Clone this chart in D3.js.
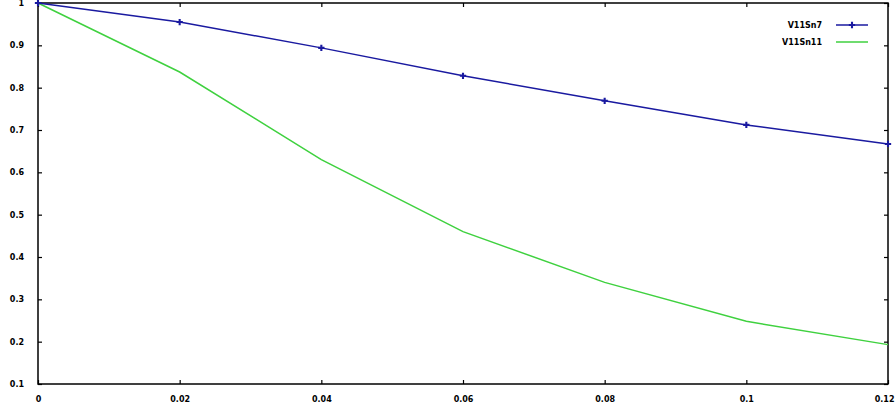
<!DOCTYPE html>
<html>
<head>
<meta charset="utf-8">
<script src="https://cdn.jsdelivr.net/npm/d3@7"></script>
<style>
  body { margin: 0; background: #fff; }
  text { font-family: "DejaVu Sans", sans-serif; font-weight: bold; font-size: 8px; fill: #000; }
</style>
</head>
<body>
<div id="chart-area"></div>
<script>
// data
var xValues = [0, 0.02, 0.04, 0.06, 0.08, 0.1, 0.12];
var seriesNames = ["V11Sn7", "V11Sn11"];
var blueValues = [1, 0.955, 0.894, 0.828, 0.769, 0.712, 0.667];
var greenValues = [1, 0.837, 0.630, 0.460, 0.340, 0.248, 0.193];
var xTicks = [0, 0.02, 0.04, 0.06, 0.08, 0.1, 0.12];
var yTicks = [0.1, 0.2, 0.3, 0.4, 0.5, 0.6, 0.7, 0.8, 0.9, 1];

var width = 895, height = 411;
var margin = {top: 3, right: 7, bottom: 27, left: 38};
var w = width - margin.left - margin.right;
var h = height - margin.top - margin.bottom;

var svg = d3.select("#chart-area").append("svg").attr("width", width).attr("height", height);
var g = svg.append("g").attr("transform", "translate(" + margin.left + "," + margin.top + ")");

var x = d3.scaleLinear().domain([0, 0.12]).range([0, w]);
var y = d3.scaleLinear().domain([0.1, 1]).range([h, 0]);

// frame
g.append("rect").attr("width", w).attr("height", h)
    .attr("fill", "none").attr("stroke", "#000").attr("stroke-width", 1.5);

// axes with inward ticks
var fmt = function(d) { return d3.format("~g")(d); };
var bottom = g.append("g").attr("transform", "translate(0," + h + ")")
    .call(d3.axisBottom(x).tickValues(xTicks).tickSize(-4).tickPadding(12).tickFormat(fmt))
    .call(function(a) { a.select(".domain").remove(); });
// last label sits at the edge, keep it inside the window
bottom.selectAll(".tick text").filter(function(d) { return d === 0.12; })
    .attr("text-anchor", "end").attr("dx", "6");
g.append("g")
    .call(d3.axisLeft(y).tickValues(yTicks).tickSize(-4).tickPadding(14).tickFormat(fmt))
    .call(function(a) { a.select(".domain").remove(); });
g.append("g")
    .call(d3.axisTop(x).tickValues(xTicks).tickSize(-4).tickFormat(""))
    .call(function(a) { a.select(".domain").remove(); });
g.append("g").attr("transform", "translate(" + w + ",0)")
    .call(d3.axisRight(y).tickValues(yTicks).tickSize(-4).tickFormat(""))
    .call(function(a) { a.select(".domain").remove(); });
g.selectAll(".tick line").attr("stroke", "#000").attr("stroke-width", 1.2);
g.selectAll(".tick text").style("font-size", "8px").style("font-weight", "bold");

var line = d3.line().x(function(d, i) { return x(xValues[i]); }).y(function(d) { return y(d); });

g.append("path").datum(greenValues).attr("d", line)
    .attr("fill", "none").attr("stroke", "#3fd13f").attr("stroke-width", 1.5);
g.append("path").datum(blueValues).attr("d", line)
    .attr("fill", "none").attr("stroke", "#1a1aa0").attr("stroke-width", 1.5);

// plus markers on blue series
var plus = d3.symbol().type(d3.symbolCross).size(22);
g.selectAll(".mark").data(blueValues).enter().append("path")
    .attr("class", "mark")
    .attr("transform", function(d, i) { return "translate(" + x(xValues[i]) + "," + y(d) + ")"; })
    .attr("d", plus).attr("fill", "#1a1aa0");

// legend
var legend = svg.append("g").attr("transform", "translate(822,25)");
var colors = ["#1a1aa0", "#3fd13f"];
seriesNames.forEach(function(name, i) {
    var row = legend.append("g").attr("transform", "translate(0," + (i * 17) + ")");
    row.append("text").attr("text-anchor", "end").attr("dy", "0.35em").text(name);
    row.append("line").attr("x1", 14).attr("x2", 46)
        .attr("stroke", colors[i]).attr("stroke-width", 1.5);
    if (i === 0) {
        row.append("path").attr("transform", "translate(30,0)").attr("d", plus).attr("fill", colors[i]);
    }
});
</script>
</body>
</html>
